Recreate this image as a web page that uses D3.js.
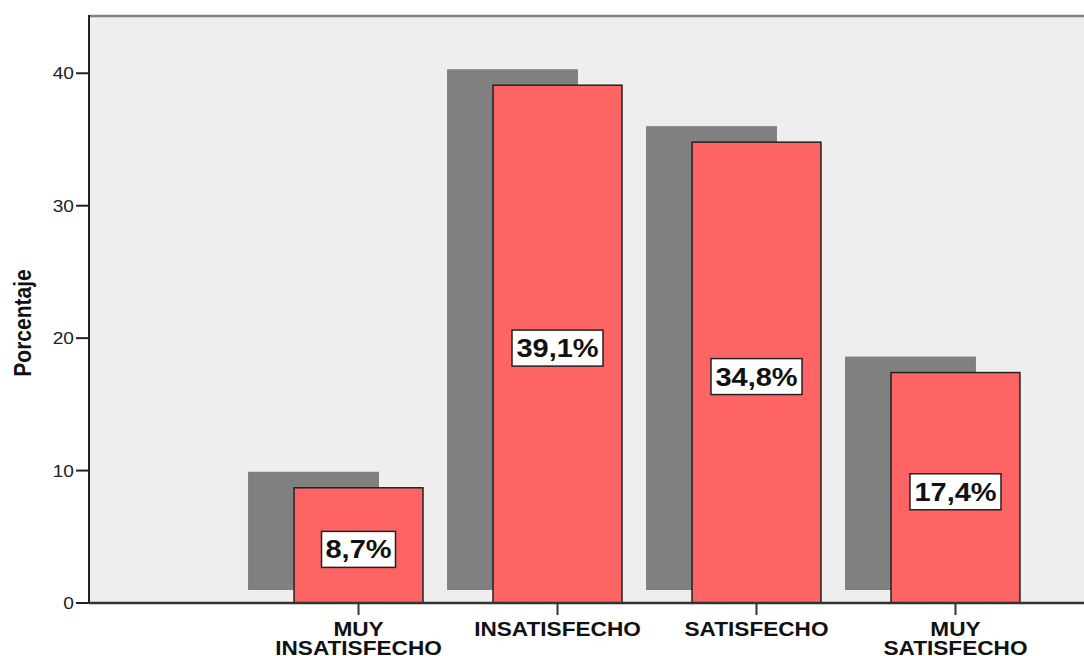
<!DOCTYPE html>
<html>
<head>
<meta charset="utf-8">
<script src="https://cdn.jsdelivr.net/npm/d3@7"></script>
<style>
  html, body { margin: 0; padding: 0; background: #ffffff; }
  svg { display: block; }
  text { font-family: "Liberation Sans", Arial, sans-serif; }
</style>
</head>
<body>
<svg id="chart" width="1084" height="656"></svg>
<script>
// Satisfaction levels (category axis)
const categories = ["MUY INSATISFECHO", "INSATISFECHO", "SATISFECHO", "MUY SATISFECHO"];
// Label lines for each category
const categoryLines = [["MUY", "INSATISFECHO"], ["INSATISFECHO"], ["SATISFECHO"], ["MUY", "SATISFECHO"]];
// Percentage per category
const percentages = [8.7, 39.1, 34.8, 17.4];
// Value labels as printed
const valueLabels = ["8,7%", "39,1%", "34,8%", "17,4%"];
// Y axis ticks
const yTicks = [0, 10, 20, 30, 40];

const svg = d3.select("#chart");
const plot = { left: 89, right: 1084, top: 15, bottom: 603 };
const stretch = 1.16; // horizontal widening of the text glyphs

const y = d3.scaleLinear().domain([0, 44.4]).range([plot.bottom, plot.top]);
const x = d3.scaleBand()
  .domain(categories)
  .range([224, 1090])
  .paddingInner(0.352)
  .paddingOuter(0.352);

// Plot background
svg.append("rect")
  .attr("x", plot.left).attr("y", plot.top)
  .attr("width", plot.right - plot.left).attr("height", plot.bottom - plot.top)
  .attr("fill", "#eeeeee");
svg.append("line")
  .attr("x1", plot.left).attr("x2", plot.right)
  .attr("y1", plot.top + 1).attr("y2", plot.top + 1)
  .attr("stroke", "#808080").attr("stroke-width", 2.5);

// Shadow bars (offset up-left, slightly taller than the bar)
const shadowDx = -46, shadowTop = -16, shadowBottom = -13;
svg.append("g").selectAll("rect")
  .data(percentages)
  .join("rect")
  .attr("x", (d, i) => x(categories[i]) + shadowDx)
  .attr("y", d => y(d) + shadowTop)
  .attr("width", x.bandwidth() + 2)
  .attr("height", d => (y(0) + shadowBottom) - (y(d) + shadowTop))
  .attr("fill", "#808080");

// Main bars
svg.append("g").selectAll("rect")
  .data(percentages)
  .join("rect")
  .attr("x", (d, i) => x(categories[i]))
  .attr("y", d => y(d))
  .attr("width", x.bandwidth())
  .attr("height", d => y(0) - y(d))
  .attr("fill", "#ff6464")
  .attr("stroke", "#222222")
  .attr("stroke-width", 1.5);

// Value labels in white boxes at mid-bar
const labels = svg.append("g").selectAll("g")
  .data(percentages)
  .join("g")
  .attr("transform", (d, i) => `translate(${x(categories[i]) + x.bandwidth() / 2},${y(d / 2) + 4})`);
labels.append("rect")
  .attr("x", (d, i) => valueLabels[i].length === 4 ? -37 : -45.5)
  .attr("y", -18)
  .attr("width", (d, i) => valueLabels[i].length === 4 ? 74 : 91)
  .attr("height", 36)
  .attr("fill", "#ffffff")
  .attr("stroke", "#222222")
  .attr("stroke-width", 1.5);
labels.append("text")
  .attr("transform", `scale(${stretch},1)`)
  .attr("text-anchor", "middle")
  .attr("dy", "0.36em")
  .attr("font-size", 25)
  .attr("font-weight", "bold")
  .attr("fill", "#111111")
  .text((d, i) => valueLabels[i]);

// Y axis
const yAxis = svg.append("g");
yAxis.append("line")
  .attr("x1", plot.left).attr("x2", plot.left)
  .attr("y1", plot.top).attr("y2", plot.bottom)
  .attr("stroke", "#222222").attr("stroke-width", 2);
const yt = yAxis.selectAll("g.tick").data(yTicks).join("g")
  .attr("class", "tick")
  .attr("transform", d => `translate(0,${y(d)})`);
yt.append("line")
  .attr("x1", 76).attr("x2", plot.left)
  .attr("stroke", "#222222").attr("stroke-width", 2);
yt.append("text")
  .attr("transform", `translate(74,0) scale(${stretch},1)`)
  .attr("text-anchor", "end")
  .attr("dy", "0.36em")
  .attr("font-size", 16.5)
  .attr("fill", "#222222")
  .text(d => d);

// X axis
const xAxis = svg.append("g");
xAxis.append("line")
  .attr("x1", plot.left).attr("x2", plot.right)
  .attr("y1", plot.bottom).attr("y2", plot.bottom)
  .attr("stroke", "#333333").attr("stroke-width", 2.5);
const xt = xAxis.selectAll("g.tick").data(categories).join("g")
  .attr("class", "tick")
  .attr("transform", d => `translate(${x(d) + x.bandwidth() / 2},0)`);
xt.append("line")
  .attr("y1", plot.bottom).attr("y2", plot.bottom + 12)
  .attr("stroke", "#333333").attr("stroke-width", 2);
xt.append("text")
  .attr("transform", `translate(0,636) scale(${stretch},1)`)
  .attr("text-anchor", "middle")
  .attr("font-size", 19.5)
  .attr("font-weight", "bold")
  .attr("fill", "#111111")
  .selectAll("tspan")
  .data((d, i) => categoryLines[i])
  .join("tspan")
  .attr("x", 0)
  .attr("dy", (d, j) => j === 0 ? 0 : 19)
  .text(d => d);

// Y axis title
svg.append("text")
  .attr("transform", `translate(31,323) scale(${stretch},1) rotate(-90)`)
  .attr("text-anchor", "middle")
  .attr("font-size", 21)
  .attr("font-weight", "bold")
  .attr("fill", "#111111")
  .text("Porcentaje");
</script>
</body>
</html>
